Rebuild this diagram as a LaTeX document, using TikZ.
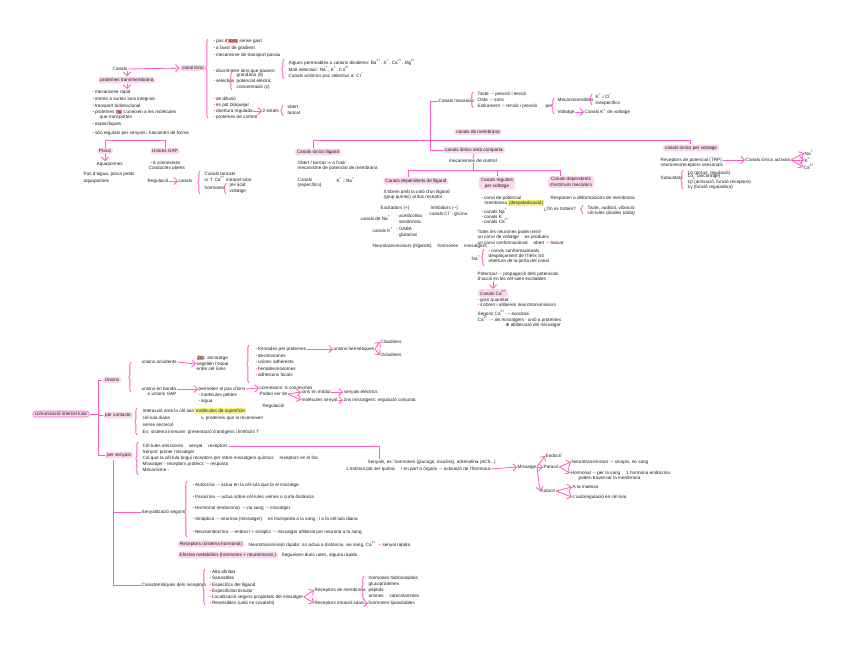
\documentclass[tikz,border=0pt]{standalone}
\usepackage{fontspec}
\setmainfont{Liberation Sans}
\newfontfamily\symf{DejaVu Sans}
\usepackage{xcolor}
\definecolor{LinePink}{HTML}{FF5CC6}
\definecolor{BoxPink}{HTML}{FCD6EC}
\definecolor{HiYellow}{HTML}{F9F27A}
\definecolor{HiRed}{HTML}{FF8F8F}
\definecolor{DotGreen}{HTML}{B4E09C}
\definecolor{Ink}{HTML}{1E1E1E}
\usepackage{tikz}
\usetikzlibrary{arrows.meta,decorations.pathreplacing}

\newcommand{\bul}{\textcolor{LinePink}{\textbullet}\,}
\newcommand{\gbul}{\textcolor{DotGreen}{\textbullet}\,}
\newcommand{\pto}{{\symf\textcolor{LinePink}{→}}}
\newcommand{\sto}{{\symf →}}
\newcommand{\hly}[1]{{\setlength{\fboxsep}{0.6pt}\colorbox{HiYellow}{#1}}}
\newcommand{\hlr}[1]{{\setlength{\fboxsep}{0.4pt}\colorbox{HiRed}{#1}}}
\newcommand{\pdot}{\textcolor{HiRed}{\textbullet}}
\newcommand{\up}[1]{\textsuperscript{#1}}

\begin{document}
\begin{tikzpicture}[
  x=0.025cm, y=-0.025cm,
  txt/.style={anchor=west, inner sep=0.3pt, text=Ink, font=\fontsize{3.3}{4.2}\selectfont},
  tag/.style={txt, anchor=center, fill=BoxPink, rounded corners=2pt, inner xsep=1.5pt, inner ysep=0.9pt},
  ln/.style={draw=LinePink, line width=0.6pt},
  arr/.style={ln, -{Straight Barb[length=0.9mm]}},
  brc/.style={ln, decorate, decoration={brace, amplitude=1.6pt, aspect=#1}},
  brc/.default=0.5,
]
  \useasboundingbox (0,0) rectangle (848,645);

  % Canals (top left)
  \node[txt] (canals) at (112,69) {Canals};
  \node[tag] (ionic) at (193,68) {canal iònic};
  \node[tag] (transm) at (127,80) {proteïnes transmembrana};
  \node[txt] (p1) at (92,92) {\bul mecanisme ràpid};
  \node[txt] (p2) at (92,99) {\bul entren o surten ions integrals};
  \node[txt] (p3) at (92,106) {\bul transport bidireccional};
  \node[txt] (p4) at (92,112) {\bul proteïnes \hlr{no} s'uneixen a les molècules};
  \node[txt] (p4b) at (99,117) {que transporten};
  \node[txt] (p5) at (92,124) {\bul específiques};
  \node[txt] (p6) at (92,133) {\bul són regulats per senyals i funcionen de forma};
  \draw[arr] (canals.east) -- (ionic.west);
  \draw[arr] (canals.south -| transm) -- (transm.north);
  \draw[arr] (transm.south) -- (transm.south |- p1.north);

  % canal ionic list
  \draw[brc=0.64] (208,118) -- (208,39);
  \node[txt] (i1) at (213,41) {\bul pas d'\hlr{ions} sense gast};
  \node[txt] (i2) at (213,48) {\bul a favor de gradient};
  \node[txt] (i3) at (213,55) {\bul mecanisme de transport passiu};
  \node[txt] (i4) at (213,71) {\bul discriminen ions que passen};
  \node[txt] (i5) at (213,81) {\bul selectius};
  \draw[brc] (232,90) -- (232,72);
  \node[txt] (i5a) at (236,75) {grandària (d)};
  \node[txt] (i5b) at (236,81) {potencial elèctric};
  \node[txt] (i5c) at (236,87) {concentració (c)};
  \node[txt] (i6) at (213,99) {\bul de difusió};
  \node[txt] (i7) at (213,105) {\bul es pot bloquejar};
  \node[txt] (i8) at (213,111) {\bul obertura regulada};
  \node[txt] (estats) at (262,111) {2 estats};
  \draw[arr] (i8) -- (estats);
  \draw[brc] (283,116) -- (283,105);
  \node[txt] (obert) at (287,107) {obert};
  \node[txt] (tancat) at (287,113) {tancat};
  \node[txt] (i9) at (213,117) {\bul proteïnes de control};
  \draw[brc] (284,79) -- (284,59);
  \node[txt] (j1) at (288,62) {Alguns permeables a cations divalents: Ba\up{2+}, K\up{+}, Ca\up{2+}, Mg\up{2+}};
  \node[txt] (j2) at (288,69) {Molt selectius: Na\up{+}, K\up{+}, Ca\up{2+}};
  \node[txt] (j3) at (288,76) {Canals aniònics poc selectius a: Cl\up{−}};

  % Porus i unions GAP
  \node[tag] (porus) at (105,151) {Porus};
  \node[tag] (gap) at (165,151) {Unions GAP};
  \draw[ln] (porus.north) -- ++(0,-7) -| (gap.north);
  \node[txt] (aqua) at (96,164) {Aquaporines};
  \draw[arr] (porus.south) -- (porus.south |- aqua.north);
  \node[txt] (pd1) at (83,174) {Pas d'aigua, porus petits};
  \node[txt] (pd2) at (83,181) {aquaporines};
  \node[txt] (gp1) at (150,163) {\bul 6 connexines};
  \node[txt] (gp2) at (148,168) {Conductes oberts};
  \node[txt] (gp3) at (147,181) {Regulació};
  \node[txt] (gp4) at (178,181) {canals};
  \draw[arr] (gp3) -- (gp4);
  \draw[brc] (200,194) -- (200,171);
  \node[txt] (h1) at (204,174) {Canals tancats};
  \node[txt] (h2) at (204,179) {si {\symf ↑} Ca\up{2+} intracel·lular};
  \node[txt] (h3) at (204,188) {hormones};
  \draw[brc] (226,194) -- (226,183);
  \node[txt] (h3a) at (229,185) {pH àcid};
  \node[txt] (h3b) at (229,191) {voltatge};

  % Canals de membrana (top middle)
  \node[tag] (lliga) at (318,152) {Canals iònics lligand};
  \node[txt] (ll1) at (297,163) {Obert / tancat \sto{} a l'unir};
  \node[txt] (ll2) at (297,168) {mecanisme de potencial de membrana};
  \node[txt] (ll3) at (297,180) {Canals};
  \node[txt] (ll4) at (297,185) {(específics)};
  \node[txt] (ll5) at (336,180) {K\up{+} i Na\up{+}};
  \node[tag] (memb) at (478,132) {canals de membrana};
  \node[txt] (mec) at (438,101) {Canals mecànics};
  \node[tag] (comp) at (474,150) {canals iònics amb comporta};
  \node[txt, anchor=center] (mecs) at (473,161) {mecanismes de control};
  \node[tag] (volta) at (691,148) {canals iònics per voltatge};
  \coordinate (busl) at (313,140);
  \coordinate (busr) at (690,140);
  \draw[ln] (lliga.north -| busl) -- (busl) -- (busr) -- (busr |- volta.north);
  \draw[ln] (mec.west) -- ++(-8,0) |- (comp.west);
  \draw[ln] (comp.south) -- (mecs.north);

  % mecanics
  \draw[brc] (473,108) -- (473,92);
  \node[txt] (m1) at (477,94) {Tacte \pto{} pressió i tensió};
  \node[txt] (m2) at (477,100) {Oïda \pto{} sons};
  \node[txt] (m3) at (477,106) {Estirament \pto{} tensió i pressió};
  \node[txt] (per) at (545,107) {per};
  \draw[brc] (554,114) -- (554,98);
  \node[txt] (ms1) at (557,100) {Mecanosensibles};
  \draw[brc] (592,105) -- (592,94);
  \node[txt] (ms1a) at (595,96) {K\up{+} i Cl\up{−}};
  \node[txt] (ms1b) at (595,103) {inespecífics};
  \node[txt] (ms2) at (557,112) {Voltatge};
  \node[txt] (ms2a) at (584,112) {Canals K\up{+} de voltatge};
  \draw[arr] (ms2) -- (ms2a);

  % mecanismes de control
  \node[tag] (dlli) at (416,181) {Canals dependents de lligand};
  \node[tag, align=center] (dvol) at (497,183) {Canals regulats\\per voltatge};
  \node[tag, align=center] (dmec) at (571,182) {Canals dependents\\d'estímuls mecànics};
  \coordinate (bus2l) at (408,170);
  \coordinate (bus2r) at (560,170);
  \draw[ln] (mecs.south) -- (mecs.south |- bus2l);
  \draw[ln] (bus2l |- dlli.north) -- (bus2l) -- (bus2r) -- (bus2r |- dmec.north);
  \draw[ln] (dvol.north |- bus2l) -- (dvol.north);

  % lligand
  \node[txt] (dl1) at (383,192) {S'obren amb la unió d'un lligand};
  \node[txt] (dl2) at (383,197) {(grup químic) al lloc receptor};
  \node[txt] (exc) at (380,208) {Excitadors (+)};
  \node[txt] (inh) at (430,208) {Inhibidors (−)};
  \node[txt] (cna) at (360,218) {canals de Na\up{+}};
  \node[txt] (ach) at (396,215.5) {\gbul acetilcolina};
  \node[txt] (ser) at (396,221.5) {\gbul serotonina};
  \node[txt] (ccl) at (429,214) {canals Cl\up{−}};
  \node[txt] (gli) at (451,214) {\gbul glicina};
  \node[txt] (ck) at (372,230) {canals K\up{+}};
  \node[txt] (gaba) at (396,229) {\gbul GABA};
  \node[txt] (glu) at (396,235) {\gbul glutamat};
  \node[txt] (neu) at (372,246) {Neurotransmissors (lligands) \quad hormones \quad missatgers};

  % voltatge
  \node[txt] (dv1) at (481,198) {\bul canvi de potencial};
  \node[txt] (dv2) at (484,203) {membrana \hly{(despolarització)}};
  \node[txt] (dv3) at (481,211) {\bul canals Na\up{+}};
  \node[txt] (dv4) at (481,216) {\bul canals K\up{+}};
  \node[txt] (dv5) at (481,221) {\bul canals Ca\up{2+}};
  \node[txt] (dv6) at (477,232) {Totes les neurones poden tenir};
  \node[txt] (dv7) at (477,237) {un canvi de voltatge \quad es produeix};
  \node[txt] (dv8) at (477,243) {un canvi conformacional \quad obert \pto{} tancat};
  \node[txt] (nap) at (471,258) {Na\up{+}};
  \draw[brc] (484,266) -- (484,249);
  \node[txt] (na1) at (488,251) {\bul canvis conformacionals};
  \node[txt] (na2) at (488,256) {desplaçament de l'hèlix S4};
  \node[txt] (na3) at (488,261) {obertura de la porta del canal};
  \node[txt] (pot1) at (477,274) {Potencial \pto{} propagació dels potencials};
  \node[txt] (pot2) at (477,279) {d'acció en les cèl·lules excitables};
  \node[tag] (dca) at (493,293) {Canals Ca\up{2+}};
  \draw[arr] (pot2.south -| dca) -- (dca.north);
  \node[txt] (ca1) at (477,300) {\bul gran quantitat};
  \node[txt] (ca2) at (477,305) {\bul s'obren i alliberen neurotransmissors};
  \node[txt] (ca3) at (477,313) {Segons Ca\up{2+} \pto{} exocitosi};
  \node[txt] (ca4) at (477,319) {Ca\up{2+} \pto{} als missatgers \gbul unió a proteïnes};
  \node[txt] (ca5) at (505,325) {{\symf ⊕} alliberació del missatger};

  % estimuls mecanics
  \node[txt] (dm1) at (550,198) {Responen a deformacions de membrana};
  \node[txt] (dm2) at (543,209) {¿On es troben?};
  \draw[brc] (583,214) -- (583,205);
  \node[txt] (dm3) at (587,208) {Tacte, audició, vibració};
  \node[txt] (dm4) at (587,213) {cèl·lules ciliades (oïda)};

  % voltatge (right)
  \node[txt] (trp1) at (660,160) {Receptors de potencial (TRP)};
  \node[txt] (trp2) at (660,165) {neurones/receptors sensorials};
  \node[txt] (vtxt) at (745,160) {Canals iònics activats};
  \draw[arr] (trp1.east) -- (vtxt.west);
  \node[txt] (vna) at (804,153) {Na\up{+}};
  \node[txt] (vk) at (804,160) {K\up{+}};
  \node[txt] (vca) at (803,167) {Ca\up{2+}};
  \draw[arr] (vtxt.east) -- (vna.west);
  \draw[arr] (vtxt.east) -- (vk.west);
  \draw[arr] (vtxt.east) -- (vca.west);
  \node[txt] (sub) at (660,178) {Subunitats};
  \draw[brc] (683,189) -- (683,170);
  \node[txt] (su1) at (687,173) {1α (porus, regulació)};
  \node[txt] (su2) at (687,177) {1α\textsubscript{2} (ancoratge)};
  \node[txt] (su3) at (687,182) {1β (activació, funció receptors)};
  \node[txt] (su4) at (687,187) {1γ (funció reguladora)};

  % Comunicacio intercel.lular (bottom)
  \node[tag, draw=LinePink, line width=0.4pt] (ci) at (61,414) {comunicació intercel·lular};
  \coordinate (trunk) at (98,414);
  \node[tag] (unio) at (112,380) {Unions};
  \node[tag] (cont) at (118,415) {per contacte};
  \node[tag] (sen) at (119,455) {per senyals};
  \draw[ln] (ci.east) -- (trunk);
  \draw[ln] (unio.west) -- (unio.west -| trunk) -- (sen.west -| trunk) -- (sen.west);
  \draw[ln] (cont.west -| trunk) -- (cont.west);

  % unions
  \draw[brc] (131,392) -- (131,362);
  \node[txt] (u1) at (141,362) {unions ocludents};
  \node[txt] (g1a) at (196,358) {\hlr{ZO}: ancoratge};
  \node[txt] (g1b) at (196,364) {segellen l'espai};
  \node[txt] (g1c) at (196,369) {entre cèl·lules};
  \draw[arr] (u1.east) -- (g1b.west);
  \draw[brc] (249,383) -- (249,345);
  \node[txt] (e1) at (255,349) {\bul formades per proteïnes};
  \node[txt] (herm) at (333,349) {unions hermètiques};
  \draw[arr] (e1) -- (herm);
  \node[txt] (clau) at (380,342) {Claudines};
  \node[txt] (oclu) at (380,355) {Ocludines};
  \draw[arr] (herm.east) -- (clau.west);
  \draw[arr] (herm.east) -- (oclu.west);
  \node[txt] (e2) at (255,356) {\bul desmosomes};
  \node[txt] (e3) at (255,362) {\bul unions adherents};
  \node[txt] (e4) at (255,369) {\bul hemidesmosomes};
  \node[txt] (e5) at (255,375) {\bul adhesions focals};
  \node[txt] (u2) at (141,389) {unions en banda};
  \node[txt] (u2b) at (147,394) {o unions GAP};
  \node[txt] (g2a) at (198,389) {permeten el pas d'ions};
  \node[txt] (g2b) at (198,395) {\bul molècules petites};
  \node[txt] (g2c) at (198,401) {\bul aigua};
  \draw[arr] (u2.east) -- (g2a.west);
  \node[txt] (cx) at (259,388) {connexons: 6 connexines};
  \draw[arr] (g2a.east) -- (cx.west);
  \node[txt] (pod) at (259,394) {Poden ser de};
  \node[txt] (io) at (301,392) {ions en mòdul};
  \node[txt] (se) at (343,392) {senyals elèctrics};
  \node[txt] (mo) at (301,400) {molècules senyal};
  \node[txt] (mi) at (343,400) {2ns missatgers: regulació conjunta};
  \draw[arr] (pod.east) -- (io.west);
  \draw[arr] (pod.east) -- (mo.west);
  \draw[arr] (io) -- (se);
  \draw[arr] (mo) -- (mi);
  \node[txt] (reg) at (262,406) {Regulació!};

  % per contacte
  \draw[brc] (137,435) -- (137,408);
  \node[txt] (c1) at (142,411) {Interacció amb la cèl·lula \hly{molècules de superfície}};
  \node[txt] (c2) at (142,418) {cèl·lula diana};
  \node[txt] (c2b) at (200,418) {{\symf ↳} proteïnes que la reconeixen};
  \node[txt] (c3) at (142,425) {sense secreció};
  \node[txt] (c4) at (142,432) {Ex: sistema immune: presentació d'antígens i limfòcits T};

  % per senyals
  \draw[brc] (138,475) -- (138,442);
  \node[txt] (s1) at (142,446) {Cèl·lules emissores \quad senyal \quad receptors};
  \node[txt] (s2) at (142,452) {Senyal: primer missatger};
  \node[txt] (s3) at (142,458) {Cal que la cèl·lula tingui receptors per rebre missatgers químics \quad receptors en el lloc};
  \node[txt] (s4) at (142,464) {Missatger \pdot{} receptors proteics \pto{} resposta};
  \node[txt] (s5) at (142,470) {Mecanisme \pdot};
  \node[txt] (sig1) at (367,462) {Senyals, ex: hormones (glucagó, insulina), adrenalina (ACh...)};
  \node[txt] (sig2) at (346,469) {L'estímul pot ser químic \quad i en part a òrgans \pto{} activació de l'hormona};
  \coordinate (sigtop) at (379,446);
  \draw[ln] (s1.east) -- (sigtop) -- (sigtop |- sig1.north);
  \node[txt] (msg) at (517,467) {Missatge};
  \draw[arr] (sig2.east) -- (msg.west);
  \node[txt] (endo) at (545,456) {Endocrí};
  \node[txt] (para) at (543,467) {Paracrí};
  \node[txt] (auto) at (540,491) {Autocrí};
  \draw[arr] (msg.east) -- (endo.west);
  \draw[arr] (msg.east) -- (para.west);
  \draw[arr] (msg.east) -- (auto.west);
  \node[txt] (pn1) at (571,462) {Neurotransmissor \pto{} sinapsi, no sang};
  \node[txt] (pn2) at (570,473) {Hormonal \pto{} per la sang \quad 1 hormona endocrina};
  \node[txt] (pn3) at (578,478) {poden travessar la membrana};
  \draw[arr] (para.east) -- (pn1.west);
  \draw[arr] (para.east) -- (pn2.west);
  \node[txt] (au1) at (572,487) {A la mateixa};
  \node[txt] (au2) at (572,497) {L'autoregulació en cèl·lula};
  \draw[arr] (auto.east) -- (au1.west);
  \draw[arr] (auto.east) -- (au2.west);

  % senyalitzacio segons
  \coordinate (trunk2) at (113,460);
  \node[txt] (sseg) at (141,512) {Senyalització segons};
  \node[txt] (crec) at (141,585) {Característiques dels receptors};
  \draw[ln] (trunk2) |- (sseg.west);
  \draw[ln] (trunk2) |- (crec.west);
  \draw[brc=0.45] (187,537) -- (187,481);
  \node[txt] (t1) at (192,485) {\bul Autocrina \pto{} actua en la cèl·lula que fa el missatge};
  \node[txt] (t2) at (192,497) {\bul Paracrina \pto{} actua sobre cèl·lules veïnes a curta distància};
  \node[txt] (t3) at (192,508) {\bul Hormonal (endocrina) \pto{} via sang \pto{} missatger};
  \node[txt] (t4) at (192,519) {\bul Sinàptica \pto{} neurona (missatger) \quad es transporta a la sang ; i a la cèl·lula diana};
  \node[txt] (t5) at (192,532) {\bul Neuroendocrina \pto{} endocrí + sinàptic \pto{} missatger alliberat per neurona a la sang};
  \node[tag] (rec1) at (211,544) {Receptors (sistema hormonal)};
  \node[txt] (rec1t) at (248,544) {Neurotransmissió ràpida: no actua a distància, via sang, Ca\up{2+} \pto{} senyal ràpida};
  \node[tag] (rec2) at (228,555) {Efectes metabòlics (hormones + neurotransm.)};
  \node[txt] (rec2t) at (281,555) {Segueixen dues rutes, alguna ràpida};

  % caracteristiques
  \draw[brc] (205,605) -- (205,569);
  \node[txt] (k1) at (209,572) {\bul Alta afinitat};
  \node[txt] (k2) at (209,578) {\bul Saturables};
  \node[txt] (k3) at (209,585) {\bul Específics del lligand};
  \node[txt] (k4) at (209,591) {\bul Especificitat tissular};
  \node[txt] (k5) at (209,597) {\bul Localització segons propietats del missatger};
  \node[txt] (k6) at (209,603) {\bul Reversibles (unió no covalent)};
  \node[txt] (rm) at (314,590) {Receptors de membrana};
  \node[txt] (ri) at (314,603) {Receptors intracel·lulars};
  \draw[arr] (k5.east) -- (rm.west);
  \draw[arr] (k5.east) -- (ri.west);
  \draw[brc] (364,600) -- (364,576);
  \node[txt] (rm1) at (368,578) {hormones hidrosolubles};
  \node[txt] (rm2) at (368,584) {glucoproteïnes};
  \node[txt] (rm3) at (368,590) {pèptids};
  \node[txt] (rm4) at (368,596) {amines \quad catecolamines};
  \node[txt] (ri1) at (368,603) {hormones liposolubles};
  \draw[arr] (ri) -- (ri1);
\end{tikzpicture}
\end{document}
